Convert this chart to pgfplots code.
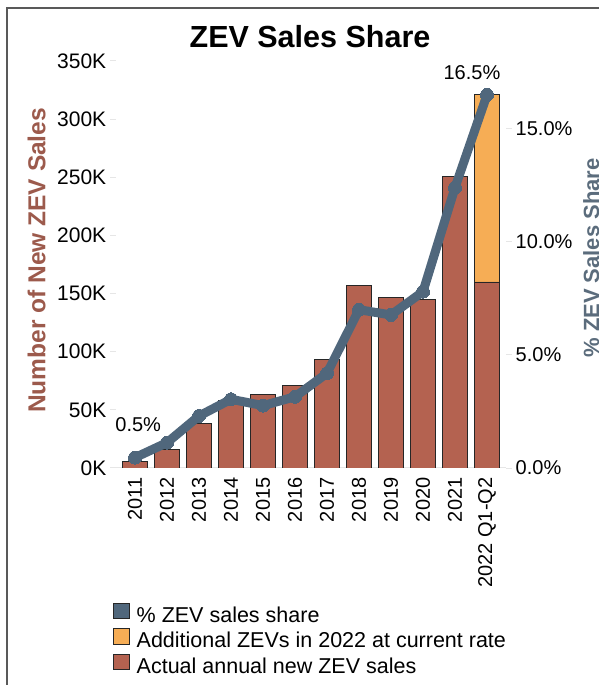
\documentclass[border=0pt]{standalone}
\usepackage{fontspec}
\setmainfont{Liberation Sans}
\usepackage{pgfplots}
\pgfplotsset{compat=1.18}
\definecolor{barred}{HTML}{B46250}
\definecolor{barorange}{HTML}{F6AD55}
\definecolor{lineblue}{HTML}{50677C}
\definecolor{labbrown}{HTML}{9C5A4C}
\definecolor{labblue}{HTML}{5B6C7C}
\definecolor{tickgray}{HTML}{E6E6E6}
\begin{document}
\begin{tikzpicture}[x=1pt,y=1pt]
\useasboundingbox (0,0) rectangle (599,685);
\draw[color=black!65, line width=1.5pt] (7,-10) -- (7,677) -- (620,677);
\node[font=\bfseries\fontsize{30.5}{36}\selectfont] at (310,648) {ZEV Sales Share};

\begin{axis}[
  at={(115.8pt,217pt)}, anchor=south west,
  width=390.4pt, height=407pt, scale only axis,
  xmin=-0.6, xmax=11.6, ymin=0, ymax=350,
  axis y line*=left, axis x line*=bottom,
  y axis line style={draw=none},
  x axis line style={draw=tickgray, line width=1pt},
  ytick={0,50,...,350},
  yticklabel={\pgfmathprintnumber{\tick}K},
  xtick={0,...,11},
  xticklabels={2011,2012,2013,2014,2015,2016,2017,2018,2019,2020,2021,2022 Q1-Q2},
  x tick label style={rotate=90, anchor=east, font=\fontsize{20}{24}\selectfont},
  y tick label style={font=\fontsize{21}{24}\selectfont},
  xtick style={draw=none},
  ytick style={draw=tickgray, line width=1pt},
  tick align=outside, major tick length=6pt,
  /pgf/number format/assume math mode=true,
  ylabel={Number of New ZEV Sales},
  every axis y label/.style={at={(axis description cs:-0.203,0.51)}, rotate=90, anchor=center,
     font=\bfseries\fontsize{24.5}{28}\selectfont, color=labbrown},
  ybar stacked, bar width=25pt,
]
\addplot[fill=barred, draw=black!85, line width=0.8pt] coordinates {
 (0,5.4) (1,16) (2,38) (3,58) (4,63.4) (5,71) (6,93.4) (7,157) (8,147) (9,144.7) (10,250.5) (11,160)
};
\addplot[fill=barorange, draw=black!85, line width=0.8pt] coordinates {
 (0,0) (1,0) (2,0) (3,0) (4,0) (5,0) (6,0) (7,0) (8,0) (9,0) (10,0) (11,161)
};
\end{axis}

\begin{axis}[
  at={(115.8pt,217pt)}, anchor=south west,
  width=390.4pt, height=407pt, scale only axis,
  xmin=-0.6, xmax=11.6, ymin=0, ymax=18,
  axis y line*=right, axis x line=none,
  y axis line style={draw=none},
  ytick={0,5,10,15},
  yticklabel={\pgfmathprintnumber[fixed,fixed zerofill,precision=1]{\tick}\%},
  y tick label style={font=\fontsize{20}{24}\selectfont},
  ytick style={draw=tickgray, line width=1pt},
  tick align=outside, major tick length=6pt,
  /pgf/number format/assume math mode=true,
  ylabel={\% ZEV Sales Share},
  every axis y label/.style={at={(axis description cs:1.218,0.516)}, rotate=90, anchor=center,
     font=\bfseries\fontsize{22}{26}\selectfont, color=labblue},
  legend style={at={(axis description cs:-0.0072,-0.331)}, anchor=north west, draw=none, fill=none,
     font=\fontsize{21.5}{25}\selectfont, row sep=1pt, inner sep=0pt,
     nodes={inner sep=0pt, text height=16pt, text depth=5pt},
     /tikz/every odd column/.style={column sep=7pt}},
  legend cell align=left,
  legend image code/.code={\draw[#1, draw=black!85, line width=1pt] (0pt,-2pt) rectangle (15.5pt,13.5pt);},
]
\addlegendimage{fill=lineblue}
\addlegendentry{\% ZEV sales share}
\addlegendimage{fill=barorange}
\addlegendentry{Additional ZEVs in 2022 at current rate}
\addlegendimage{fill=barred}
\addlegendentry{Actual annual new ZEV sales}
\addplot[forget plot, color=lineblue, line width=9pt, mark=*, mark size=6.5pt, mark options={fill=lineblue, draw=lineblue, line width=0pt}] coordinates {
 (0,0.46) (1,1.12) (2,2.3) (3,3.04) (4,2.76) (5,3.15) (6,4.19) (7,7.0) (8,6.77) (9,7.8) (10,12.4) (11,16.5)
};
\node[font=\fontsize{20}{24}\selectfont] at (axis cs:0.1,1.9) {0.5\%};
\node[font=\fontsize{20}{24}\selectfont] at (axis cs:10.53,17.5) {16.5\%};
\end{axis}
\end{tikzpicture}
\end{document}
